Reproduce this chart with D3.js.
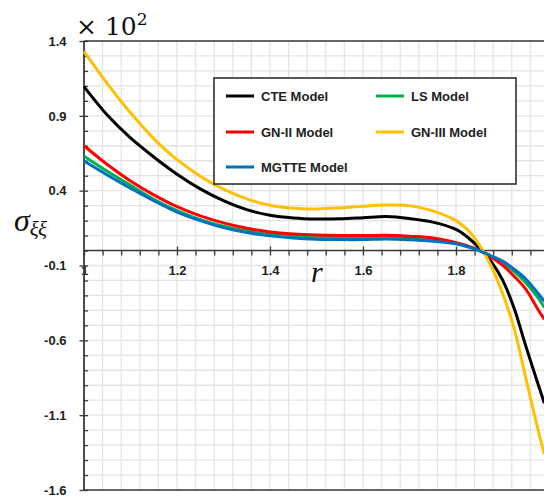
<!DOCTYPE html>
<html>
<head>
<meta charset="utf-8">
<script src="https://cdn.jsdelivr.net/npm/d3@7"></script>
<style>
  html, body { margin: 0; padding: 0; background: #fff; }
  svg { display: block; }
</style>
</head>
<body>
<svg id="chart" width="544" height="497"></svg>
<script>
// Radial coordinate r (sampling grid)
const rValues = [1.00, 1.05, 1.10, 1.15, 1.20, 1.25, 1.30, 1.35, 1.40, 1.45, 1.50, 1.55, 1.60,
                 1.65, 1.70, 1.75, 1.80, 1.825, 1.85, 1.875, 1.90, 1.925, 1.95, 1.975, 1.99];

// Stress sigma_xixi for each model (values in units of 10^2)
const cteModel   = [1.095, 0.905, 0.752, 0.625, 0.51, 0.412, 0.333, 0.273, 0.236, 0.218, 0.211, 0.212, 0.219,
                    0.227, 0.214, 0.19, 0.141, 0.089, 0.018, -0.071, -0.196, -0.386, -0.637, -0.878, -1.02];
const lsModel    = [0.63, 0.53, 0.436, 0.343, 0.266, 0.207, 0.162, 0.13, 0.108, 0.095, 0.089, 0.087, 0.088,
                    0.089, 0.084, 0.073, 0.05, 0.028, 0.0, -0.038, -0.08, -0.14, -0.215, -0.31, -0.38];
const gn2Model   = [0.70, 0.575, 0.465, 0.372, 0.293, 0.232, 0.185, 0.149, 0.124, 0.11, 0.103, 0.10, 0.10,
                    0.102, 0.095, 0.084, 0.053, 0.031, 0.001, -0.043, -0.098, -0.172, -0.258, -0.387, -0.46];
const gn3Model   = [1.33, 1.115, 0.92, 0.748, 0.607, 0.497, 0.41, 0.345, 0.302, 0.282, 0.278, 0.285, 0.296,
                    0.304, 0.30, 0.265, 0.20, 0.138, 0.038, -0.10, -0.285, -0.52, -0.85, -1.18, -1.36];
const mgtteModel = [0.598, 0.505, 0.416, 0.333, 0.257, 0.20, 0.153, 0.12, 0.098, 0.084, 0.076, 0.073, 0.073,
                    0.077, 0.072, 0.062, 0.045, 0.025, 0.0, -0.035, -0.07, -0.125, -0.19, -0.28, -0.34];

// Axis ticks
const xMajorTicks = [1, 1.2, 1.4, 1.6, 1.8];
const xTickLabels = ["1", "1.2", "1.4", "1.6", "1.8"];
const yMajorTicks = [-1.6, -1.1, -0.6, -0.1, 0.4, 0.9, 1.4];
const yTickLabels = ["-1.6", "-1.1", "-0.6", "-0.1", "0.4", "0.9", "1.4"];

const seriesNames  = ["CTE Model", "LS Model", "GN-II Model", "GN-III Model", "MGTTE Model"];
const seriesColors = ["#000000", "#00b050", "#ff0000", "#ffc000", "#0070c0"];
const seriesValues = [cteModel, lsModel, gn2Model, gn3Model, mgtteModel];

const svg = d3.select("#chart");
const W = 544, H = 497;
const plotLeft = 84, plotTop = 41, plotBottom = 490, plotRight = 549;

const x = d3.scaleLinear().domain([1, 2]).range([plotLeft, plotRight]);
const y = d3.scaleLinear().domain([-1.6, 1.4]).range([plotBottom, plotTop]);

svg.append("rect").attr("width", W).attr("height", H).attr("fill", "#fff");

const plot = svg.append("g");

// Grid
const xGrid = d3.range(0, 26).map(i => 1 + i * 0.04);
const yGrid = d3.range(0, 31).map(i => -1.6 + i * 0.1);
plot.append("g").selectAll("line").data(xGrid).join("line")
  .attr("x1", d => x(d)).attr("x2", d => x(d))
  .attr("y1", plotTop).attr("y2", plotBottom)
  .attr("stroke", "#e4e4e4").attr("stroke-width", 1.3);
plot.append("g").selectAll("line").data(yGrid).join("line")
  .attr("x1", plotLeft).attr("x2", plotRight)
  .attr("y1", d => y(d)).attr("y2", d => y(d))
  .attr("stroke", "#e4e4e4").attr("stroke-width", 1.3);

// Frame lines: top and bottom
const frameColor = "#3a3a3a";
plot.append("line").attr("x1", plotLeft).attr("x2", plotRight).attr("y1", y(1.4)).attr("y2", y(1.4))
  .attr("stroke", frameColor).attr("stroke-width", 1.5);
plot.append("line").attr("x1", plotLeft).attr("x2", plotRight).attr("y1", y(-1.6)).attr("y2", y(-1.6))
  .attr("stroke", frameColor).attr("stroke-width", 1.5);

// Horizontal axis through zero
const x0 = y(0);
const xAxisMinor = d3.axisBottom(x).tickValues(xGrid).tickSize(5).tickFormat("");
const gxMinor = plot.append("g").attr("transform", `translate(0,${x0})`).call(xAxisMinor);
const xAxisMajor = d3.axisTop(x).tickValues(xMajorTicks.slice(1)).tickSize(4).tickFormat("");
const gxMajor = plot.append("g").attr("transform", `translate(0,${x0})`).call(xAxisMajor);
[gxMinor, gxMajor].forEach(g => {
  g.select(".domain").remove();
  g.selectAll(".tick line").attr("stroke", frameColor).attr("stroke-width", 1.3);
});
plot.append("line").attr("x1", plotLeft).attr("x2", plotRight).attr("y1", x0).attr("y2", x0)
  .attr("stroke", frameColor).attr("stroke-width", 1.5);

const tickFont = "'Liberation Sans', Arial, sans-serif";
const xLabels = plot.append("g").attr("transform", `translate(0,${x0})`)
  .call(d3.axisBottom(x).tickValues(xMajorTicks).tickSize(0).tickPadding(15)
        .tickFormat((d, i) => xTickLabels[i]));
xLabels.select(".domain").remove();
xLabels.selectAll("text").attr("font-family", tickFont).attr("font-weight", "bold")
  .attr("font-size", 13).attr("fill", "#222");

// Vertical axis
const yAxisMinor = d3.axisLeft(y).tickValues(yGrid).tickSize(-4).tickFormat("");
const gyMinor = plot.append("g").attr("transform", `translate(${plotLeft},0)`).call(yAxisMinor);
const yAxisMajor = d3.axisLeft(y).tickValues(yMajorTicks).tickSize(4.5).tickPadding(13)
  .tickFormat((d, i) => yTickLabels[i]);
const gyMajor = plot.append("g").attr("transform", `translate(${plotLeft},0)`).call(yAxisMajor);
[gyMinor, gyMajor].forEach(g => {
  g.select(".domain").remove();
  g.selectAll(".tick line").attr("stroke", frameColor).attr("stroke-width", 1.3);
});
gyMajor.selectAll("text").attr("font-family", tickFont).attr("font-weight", "bold")
  .attr("font-size", 13).attr("fill", "#222");
plot.append("line").attr("x1", plotLeft).attr("x2", plotLeft).attr("y1", plotTop).attr("y2", plotBottom)
  .attr("stroke", frameColor).attr("stroke-width", 1.8);

// Curves
const line = d3.line()
  .x(d => x(d[0]))
  .y(d => y(d[1]))
  .curve(d3.curveCatmullRom.alpha(0.5));

const curves = plot.append("g");
seriesValues.forEach((vals, i) => {
  curves.append("path")
    .datum(rValues.map((r, k) => [r, vals[k]]))
    .attr("fill", "none")
    .attr("stroke", seriesColors[i])
    .attr("stroke-width", 3)
    .attr("stroke-linejoin", "round")
    .attr("d", line);
});

// Legend
const legend = svg.append("g");
legend.append("rect")
  .attr("x", 214).attr("y", 78).attr("width", 302).attr("height", 106)
  .attr("fill", "#fff").attr("stroke", "#222").attr("stroke-width", 1.5);
const legendPos = [[226, 96], [376, 96], [226, 132], [376, 132], [226, 167]];
seriesNames.forEach((name, k) => {
  const [lx, ly] = legendPos[k];
  legend.append("line").attr("x1", lx).attr("x2", lx + 28).attr("y1", ly).attr("y2", ly)
    .attr("stroke", seriesColors[k]).attr("stroke-width", 3);
  legend.append("text").attr("x", lx + 35).attr("y", ly).attr("dy", "0.35em")
    .attr("font-family", tickFont).attr("font-weight", "bold").attr("font-size", 13)
    .attr("fill", "#222").text(name);
});

// Scale factor above the plot
const mult = svg.append("text").attr("x", 76).attr("y", 35)
  .attr("font-family", "'DejaVu Serif', serif").attr("font-size", 25).attr("fill", "#111");
mult.append("tspan").text("× 10");
mult.append("tspan").attr("font-size", 17).attr("dy", -10).text("2");

// Axis titles
const yTitle = svg.append("text").attr("x", 14).attr("y", 231)
  .attr("font-family", "'Liberation Serif', serif").attr("font-style", "italic")
  .attr("font-size", 32).attr("fill", "#111");
yTitle.append("tspan").text("σ");
yTitle.append("tspan").attr("font-size", 21).attr("dy", 5).text("ξξ");

svg.append("text").attr("x", 311).attr("y", 282)
  .attr("font-family", "'Liberation Serif', serif").attr("font-style", "italic")
  .attr("font-size", 30).attr("fill", "#111").text("r");
</script>
</body>
</html>
